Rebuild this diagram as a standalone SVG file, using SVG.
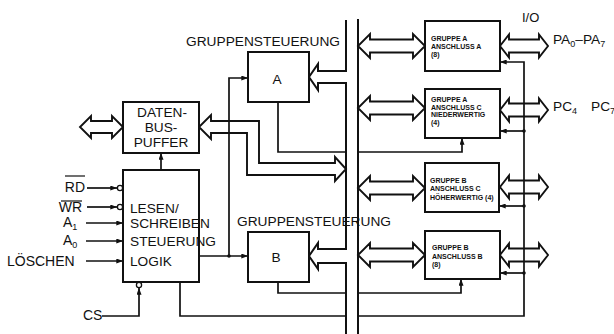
<svg xmlns="http://www.w3.org/2000/svg" width="614" height="334" viewBox="0 0 614 334">
<style>
.bx{fill:#fff;stroke:#111;stroke-width:2}
.ln{fill:none;stroke:#111;stroke-width:1.7}
.hb{fill:#fff;stroke:#111;stroke-width:1.9;stroke-linejoin:miter}
.t{font-family:"Liberation Sans",Arial,sans-serif;font-size:13.7px;fill:#111}
.s{font-family:"Liberation Sans",Arial,sans-serif;font-size:7px;font-weight:bold;fill:#111}
.dot{fill:#111}
</style>
<defs>
<marker id="ah" viewBox="0 0 8 6" refX="8" refY="3" markerWidth="7" markerHeight="5" markerUnits="userSpaceOnUse" orient="auto"><path d="M0 0 L8 3 L0 6 z" fill="#111"/></marker>
</defs>
<rect width="614" height="334" fill="#fff"/>

<g id="connectors">
<!-- internal bus -->
<path class="ln" d="M346 20 V71 H318 V64 L309 77 L318 90 V83 H346 V249 H318 V243 L309 256 L318 269 V263 H346 V334" style="stroke-width:2"/>
<line class="ln" x1="358" y1="19" x2="358" y2="334" style="stroke-width:2"/>
<!-- bus <-> ports -->
<path class="hb" d="M370 39.5 H413 V34 L425 46 L413 58 V52.5 H370 V58 L358 46 L370 34 Z"/>
<path class="hb" d="M370 101.5 H413 V96 L425 108 L413 120 V114.5 H370 V120 L358 108 L370 96 Z"/>
<path class="hb" d="M370 181.5 H413 V176 L425 188 L413 200 V194.5 H370 V200 L358 188 L370 176 Z"/>
<path class="hb" d="M370 248.5 H413 V243 L425 255 L413 267 V261.5 H370 V267 L358 255 L370 243 Z"/>
<!-- ports <-> I/O -->
<path class="hb" d="M509 39.5 H539 V34.5 L548 46 L539 57.5 V52.5 H509 V57.5 L500 46 L509 34.5 Z"/>
<path class="hb" d="M509 103.5 H539 V98.5 L548 110 L539 121.5 V116.5 H509 V121.5 L500 110 L509 98.5 Z"/>
<path class="hb" d="M509 180.5 H539 V175.5 L548 187 L539 198.5 V193.5 H509 V198.5 L500 187 L509 175.5 Z"/>
<path class="hb" d="M509 248.5 H539 V243.5 L548 255 L539 266.5 V261.5 H509 V266.5 L500 255 L509 243.5 Z"/>
<!-- data bus left -->
<path class="hb" d="M91 121 H112 V116 L123 127 L112 138 V133 H91 V138 L80 127 L91 116 Z"/>
<!-- buffer <-> internal bus -->
<path class="hb" style="fill:none" d="M211 121 H259 V163 H335 V157 L346 169 L335 181 V175 H247 V133 H211 V139 L199 127 L211 115 Z"/>
<!-- control from logic to group controls -->
<path class="ln" d="M199 256 H248" marker-end="url(#ah)"/>
<path class="ln" d="M229 256 V78 H248" marker-end="url(#ah)"/>
<circle class="dot" cx="229" cy="256" r="1.8"/>
<!-- logic -> buffer -->
<path class="ln" d="M161 170 V153" marker-end="url(#ah)"/>
<!-- inputs -->
<path class="ln" d="M87 188 H117" marker-end="url(#ah)"/>
<circle cx="120" cy="188" r="2.6" fill="#fff" stroke="#111" stroke-width="1.3"/>
<path class="ln" d="M87 207 H117" marker-end="url(#ah)"/>
<circle cx="120" cy="207" r="2.6" fill="#fff" stroke="#111" stroke-width="1.3"/>
<path class="ln" d="M86 223 H123" marker-end="url(#ah)"/>
<path class="ln" d="M86 241 H123" marker-end="url(#ah)"/>
<path class="ln" d="M86 261 H123" marker-end="url(#ah)"/>
<path class="ln" d="M102 316 H139 V288" marker-end="url(#ah)"/>
<circle cx="139" cy="285" r="2.6" fill="#fff" stroke="#111" stroke-width="1.3"/>
<!-- group A control -> port C low -->
<path class="ln" d="M278 102 V152 H346"/>
<path class="ln" d="M358 152 H462 V138" marker-end="url(#ah)"/>
<!-- group B control -> port B -->
<path class="ln" d="M278 282 V293 H346"/>
<path class="ln" d="M358 293 H461 V279" marker-end="url(#ah)"/>
<!-- logic -> ports -->
<path class="ln" d="M180 282 V316 H346"/>
<path class="ln" d="M358 316 H524 V62 H500" marker-end="url(#ah)"/>
<path class="ln" d="M524 131 H500" marker-end="url(#ah)"/>
<path class="ln" d="M524 206 H499" marker-end="url(#ah)"/>
<path class="ln" d="M524 273 H500" marker-end="url(#ah)"/>
<circle class="dot" cx="524" cy="131" r="1.8"/>
<circle class="dot" cx="524" cy="206" r="1.8"/>
<circle class="dot" cx="524" cy="273" r="1.8"/>
</g>

<g id="buffer">
<rect class="bx" x="123" y="102" width="76" height="51"/>
<text class="t" x="162" y="117" text-anchor="middle">DATEN-</text>
<text class="t" x="161" y="132" text-anchor="middle">BUS-</text>
<text class="t" x="161" y="147" text-anchor="middle">PUFFER</text>
</g>

<g id="logic">
<rect class="bx" x="123" y="170" width="76" height="112"/>
<text class="t" x="130" y="213">LESEN/</text>
<text class="t" x="130" y="228">SCHREIBEN</text>
<text class="t" x="130" y="246">STEUERUNG</text>
<text class="t" x="130" y="266">LOGIK</text>
</g>

<g id="groupA">
<text class="t" x="186" y="46" textLength="154" lengthAdjust="spacingAndGlyphs">GRUPPENSTEUERUNG</text>
<rect class="bx" x="248" y="52" width="61" height="50"/>
<text class="t" x="277" y="84" text-anchor="middle">A</text>
</g>

<g id="groupB">
<text class="t" x="237" y="226" textLength="154" lengthAdjust="spacingAndGlyphs">GRUPPENSTEUERUNG</text>
<rect class="bx" x="248" y="232" width="61" height="50"/>
<text class="t" x="276" y="262" text-anchor="middle">B</text>
</g>

<g id="portA">
<rect class="bx" x="425" y="21" width="75" height="50"/>
<text class="s" x="431" y="41">GRUPPE A</text>
<text class="s" x="431" y="49">ANSCHLUSS A</text>
<text class="s" x="431" y="57">(8)</text>
</g>

<g id="portCL">
<rect class="bx" x="425" y="89" width="75" height="49"/>
<text class="s" x="431" y="102">GRUPPE A</text>
<text class="s" x="431" y="110">ANSCHLUSS C</text>
<text class="s" x="431" y="117">NIEDERWERTIG</text>
<text class="s" x="431" y="125">(4)</text>
</g>

<g id="portCH">
<rect class="bx" x="425" y="163" width="74" height="49"/>
<text class="s" x="430" y="183">GRUPPE B</text>
<text class="s" x="430" y="191">ANSCHLUSS C</text>
<text class="s" x="430" y="200">HÖHERWERTIG (4)</text>
</g>

<g id="portB">
<rect class="bx" x="425" y="231" width="75" height="48"/>
<text class="s" x="432" y="250">GRUPPE B</text>
<text class="s" x="432" y="259">ANSCHLUSS B</text>
<text class="s" x="432" y="267">(8)</text>
</g>

<g id="labels">
<text class="t" x="522" y="22" style="font-size:13px">I/O</text>
<text class="t" x="553" y="44">PA<tspan font-size="9" dy="3">0</tspan><tspan dy="-3">–PA</tspan><tspan font-size="9" dy="3">7</tspan></text>
<text class="t" x="553" y="111">PC<tspan font-size="9" dy="3">4</tspan></text>
<text class="t" x="591" y="111">PC<tspan font-size="9" dy="3">7</tspan></text>
<text class="t" x="85" y="192" text-anchor="end" style="font-size:14px">RD</text>
<line class="ln" x1="65" y1="176" x2="85" y2="176" style="stroke-width:1.2"/>
<text class="t" x="82" y="212" text-anchor="end" style="font-size:14px">WR</text>
<line class="ln" x1="61" y1="201" x2="82" y2="201" style="stroke-width:1.2"/>
<text class="t" x="63" y="227" style="font-size:14px">A<tspan font-size="9" dy="3">1</tspan></text>
<text class="t" x="63" y="245" style="font-size:14px">A<tspan font-size="9" dy="3">0</tspan></text>
<text class="t" x="7" y="266" style="font-size:14px">LÖSCHEN</text>
<text class="t" x="83" y="320" style="font-size:14px">CS</text>
</g>
</svg>
